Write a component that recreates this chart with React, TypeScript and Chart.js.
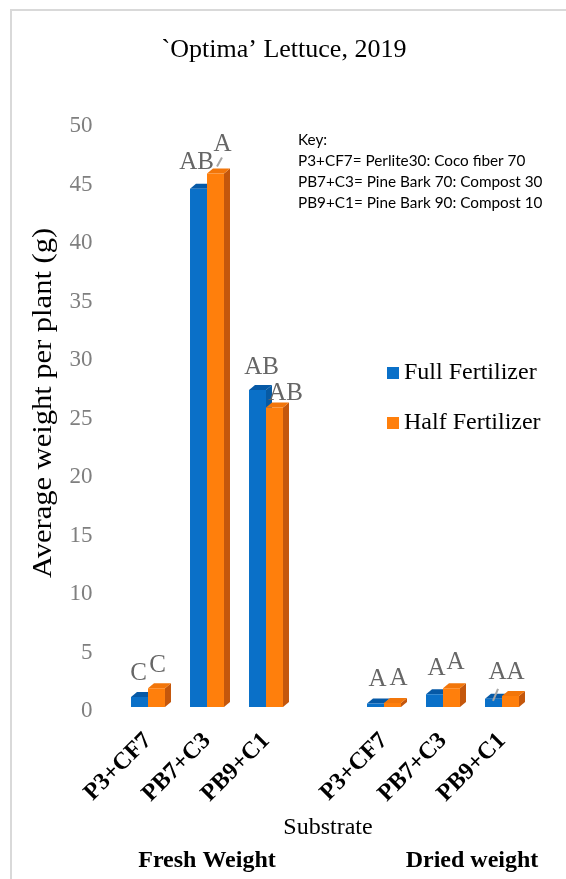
import React, { useEffect, useRef } from 'react';
import { Chart, registerables } from 'chart.js';

Chart.register(...registerables);

// ---- data ----
const categories = ['P3+CF7', 'PB7+C3', 'PB9+C1', '', 'P3+CF7', 'PB7+C3', 'PB9+C1'];
const fullFertilizer: (number | null)[] = [0.85, 44.3, 27.1, null, 0.3, 1.1, 0.7];
const halfFertilizer: (number | null)[] = [1.6, 45.6, 25.6, null, 0.35, 1.6, 0.95];
const fullLetters = ['C', 'AB', 'AB', '', 'A', 'A', 'A'];
const halfLetters = ['C', 'A', 'AB', '', 'A', 'A', 'A'];
const seriesNames = ['Full Fertilizer', 'Half Fertilizer'];
const keyLines = [
  'Key:',
  'P3+CF7= Perlite30: Coco fiber 70',
  'PB7+C3= Pine Bark 70: Compost 30',
  'PB9+C1= Pine Bark 90: Compost 10',
];
const groupLabels = ['Fresh Weight', 'Dried weight'];
const titleText = '`Optima\u2019 Lettuce, 2019';
const yTitle = 'Average weight per plant (g)';
const xTitle = 'Substrate';

// ---- styles ----
const SERIF = "'Liberation Serif', 'Times New Roman', serif";
const BLUE = { front: '#0A70C8', top: '#0659A6', side: '#075AA3' };
const ORANGE = { front: '#FF7F0C', top: '#F2760A', side: '#C4570C' };
const DEPTH_X = 6;
const DEPTH_Y = 5;

// label offsets relative to each bar's front-top centre
const fullLabelOffsets = [[-1, -24], [-2, -26], [4, -22], [0, 0], [2, -24], [2, -26], [4, -26]];
const halfLabelOffsets = [[1, -23], [7, -29], [11, -14], [0, 0], [6, -24], [4, -26], [5, -23]];

const threeDPlugin = {
  id: 'threeD',
  beforeDraw(chart: any) {
    const { ctx, width, height } = chart;
    ctx.save();
    ctx.fillStyle = '#ffffff';
    ctx.fillRect(0, 0, width, height);
    ctx.strokeStyle = '#D9D9D9';
    ctx.lineWidth = 2;
    ctx.beginPath();
    ctx.moveTo(width + 2, 10);
    ctx.lineTo(11, 10);
    ctx.lineTo(11, height + 2);
    ctx.stroke();
    ctx.restore();
  },
  beforeDatasetsDraw(chart: any) {
    const { ctx } = chart;
    const palettes = [BLUE, ORANGE];
    ctx.save();
    for (let d = 0; d < chart.data.datasets.length; d++) {
      const meta = chart.getDatasetMeta(d);
      const pal = palettes[d];
      meta.data.forEach((bar: any, i: number) => {
        if (chart.data.datasets[d].data[i] == null) return;
        const { x, y, base, width } = bar.getProps(['x', 'y', 'base', 'width'], true);
        const l = x - width / 2;
        const r = x + width / 2;
        ctx.fillStyle = pal.side;
        ctx.beginPath();
        ctx.moveTo(r, y);
        ctx.lineTo(r + DEPTH_X, y - DEPTH_Y);
        ctx.lineTo(r + DEPTH_X, base - DEPTH_Y);
        ctx.lineTo(r, base);
        ctx.closePath();
        ctx.fill();
        ctx.fillStyle = pal.top;
        ctx.beginPath();
        ctx.moveTo(l, y);
        ctx.lineTo(l + DEPTH_X, y - DEPTH_Y);
        ctx.lineTo(r + DEPTH_X, y - DEPTH_Y);
        ctx.lineTo(r, y);
        ctx.closePath();
        ctx.fill();
      });
    }
    ctx.restore();
  },
  afterDatasetsDraw(chart: any) {
    const { ctx } = chart;
    const letters = [fullLetters, halfLetters];
    const offsets = [fullLabelOffsets, halfLabelOffsets];
    ctx.save();
    ctx.font = `25px ${SERIF}`;
    ctx.fillStyle = '#666666';
    ctx.textAlign = 'center';
    ctx.textBaseline = 'middle';
    for (let d = 0; d < 2; d++) {
      const meta = chart.getDatasetMeta(d);
      meta.data.forEach((bar: any, i: number) => {
        const t = letters[d][i];
        if (!t) return;
        const [dx, dy] = offsets[d][i];
        ctx.fillText(t, bar.x + dx, bar.y + dy);
      });
    }
    ctx.strokeStyle = '#A6A6A6';
    ctx.lineWidth = 2;
    const o = chart.getDatasetMeta(1).data[1];
    ctx.beginPath();
    ctx.moveTo(o.x + 1.5, o.y - 7);
    ctx.lineTo(o.x + 6.5, o.y - 16);
    ctx.stroke();
    const b = chart.getDatasetMeta(0).data[6];
    ctx.beginPath();
    ctx.moveTo(b.x - 0.5, b.y + 2);
    ctx.lineTo(b.x + 4.5, b.y - 10);
    ctx.stroke();
    ctx.restore();
  },
  afterDraw(chart: any) {
    const { ctx } = chart;
    ctx.save();
    ctx.fillStyle = '#000000';
    ctx.font = `26px ${SERIF}`;
    ctx.textAlign = 'center';
    ctx.textBaseline = 'middle';
    ctx.fillText(titleText, 284, 50);
    ctx.save();
    ctx.translate(44, 403);
    ctx.rotate(-Math.PI / 2);
    ctx.scale(1.13, 1);
    ctx.font = `27px ${SERIF}`;
    ctx.fillText(yTitle, 0, 0);
    ctx.restore();
    ctx.font = `24px ${SERIF}`;
    ctx.fillText(xTitle, 328, 828);
    ctx.font = `bold 24px ${SERIF}`;
    const xs = chart.scales.x;
    const g1 = (xs.getPixelForValue(0) + xs.getPixelForValue(2)) / 2;
    const g2 = (xs.getPixelForValue(4) + xs.getPixelForValue(6)) / 2;
    ctx.fillText(groupLabels[0], g1, 861);
    ctx.fillText(groupLabels[1], g2 + 29, 861);
    ctx.font = `15.3px Lato, 'Noto Sans', sans-serif`;
    ctx.textAlign = 'left';
    const keyY = [140, 161, 182, 203];
    keyLines.forEach((line, i) => ctx.fillText(line, 298, keyY[i]));
    const pals = [BLUE, ORANGE];
    const legY = [373, 423];
    ctx.font = `24px ${SERIF}`;
    seriesNames.forEach((name, i) => {
      ctx.fillStyle = pals[i].front;
      ctx.fillRect(387, legY[i] - 6, 12, 12);
      ctx.fillStyle = '#000000';
      ctx.fillText(name, 404, legY[i]);
    });
    ctx.restore();
  },
};

export default function App() {
  const canvasRef = useRef<HTMLCanvasElement | null>(null);

  useEffect(() => {
    const canvas = canvasRef.current;
    if (!canvas) return;
    const chart = new Chart(canvas, {
      type: 'bar',
      data: {
        labels: categories,
        datasets: [
          {
            label: seriesNames[0],
            data: fullFertilizer,
            backgroundColor: BLUE.front,
            borderWidth: 0,
            barPercentage: 1,
            categoryPercentage: 0.576,
          },
          {
            label: seriesNames[1],
            data: halfFertilizer,
            backgroundColor: ORANGE.front,
            borderWidth: 0,
            barPercentage: 1,
            categoryPercentage: 0.576,
          },
        ],
      },
      options: {
        responsive: false,
        animation: false,
        devicePixelRatio: 1,
        layout: { padding: { left: 38.5, right: 34.5, top: 122, bottom: 0 } },
        plugins: {
          legend: { display: false },
          title: { display: false },
          tooltip: { enabled: false },
        },
        scales: {
          x: {
            grid: { display: false, drawTicks: false },
            border: { display: false },
            ticks: {
              autoSkip: false,
              minRotation: 45,
              maxRotation: 45,
              padding: 20,
              color: '#000000',
              font: { family: SERIF, size: 24, weight: 'bold' },
            },
            afterFit: (s: any) => {
              s.height = 172;
            },
          },
          y: {
            min: 0,
            max: 50,
            grid: { display: false, drawTicks: false },
            border: { display: false },
            ticks: {
              stepSize: 5,
              padding: 26,
              labelOffset: 4,
              color: '#7F7F7F',
              font: { family: SERIF, size: 23 },
            },
            afterFit: (s: any) => {
              s.width = 80;
            },
          },
        },
      },
      plugins: [threeDPlugin],
    });
    return () => chart.destroy();
  }, []);

  return (
    <div style={{ position: 'absolute', left: 0, top: 0, width: 566, height: 879 }}>
      <canvas ref={canvasRef} width={566} height={879} style={{ display: 'block' }} />
    </div>
  );
}
